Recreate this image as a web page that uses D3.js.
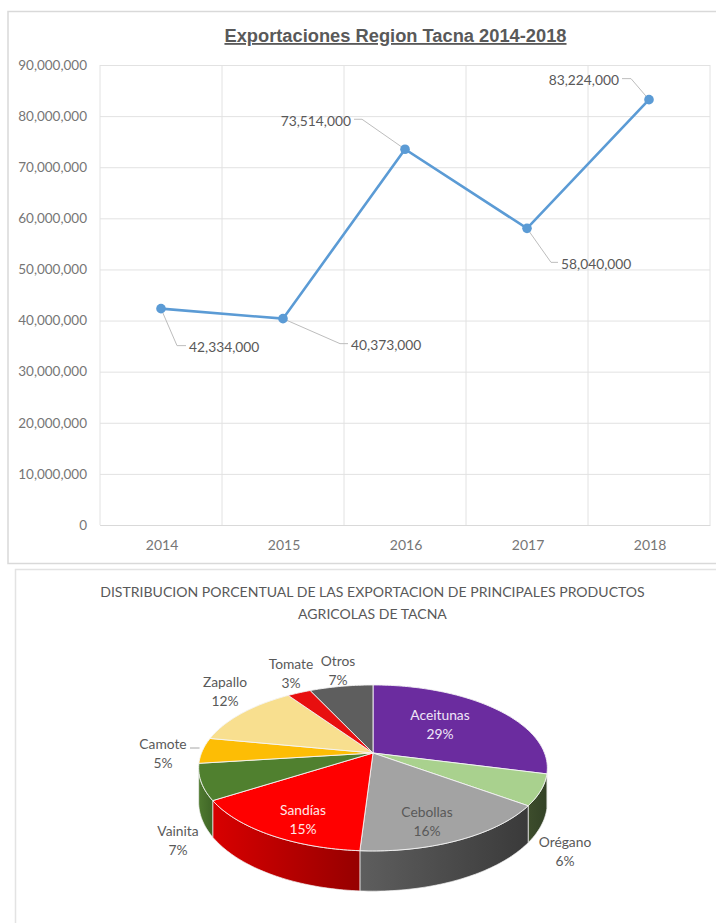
<!DOCTYPE html>
<html><head><meta charset="utf-8">
<script src="https://cdn.jsdelivr.net/npm/d3@7"></script>
<style>
html,body{margin:0;padding:0;background:#fff}
svg{display:block}
text{font-family:Lato,"Open Sans",sans-serif}
</style></head>
<body><svg id="c" width="716" height="923"></svg>
<script>
// ---- data ----
const years = ["2014","2015","2016","2017","2018"];
const exportsValues = [42334000,40373000,73514000,58040000,83224000];
const yTicks = [0,10000000,20000000,30000000,40000000,50000000,60000000,70000000,80000000,90000000];
const products = ["Aceitunas","Orégano","Cebollas","Sandías","Vainita","Camote","Zapallo","Tomate","Otros"];
const shares = [29,6,16,15,7,5,12.4,2.6,7];
const lineTitle = "Exportaciones Region Tacna 2014-2018";
const pieTitle = ["DISTRIBUCION PORCENTUAL DE LAS EXPORTACION DE PRINCIPALES PRODUCTOS","AGRICOLAS DE TACNA"];

// ---- styling / layout ----
const topColors = ["#6b2c9f","#a9d18e","#a3a3a3","#ff0000","#50802f","#fdbd05","#f8df8f","#e80f0f","#5e5e5e"];
const sideColors = [["#4a1f70","#4a1f70"],["#3d4d2c","#334226"],["#5e5e5e","#3a3a3a"],["#d80000","#960000"],["#4f7a30","#3f6526"],null,null,null,null];
const labelFill = ["#f0e6f8",null,"#595959","#ffe8e8"];
// leader offsets from each point: elbow dx,dy then end dx
const leaders = [[16,37,9],[57,25,8],[-43,-30,-8],[24,34,7],[-18,-21,-9]];
const pieLabelPos = [[440,715],[565,842],[427,812],[303,810],[178,831],[163,744],[225,682],[291,664],[338,661]];

const svg = d3.select("#c");
const grey = "#595959";

// frames
svg.append("path").attr("fill","none").attr("stroke","#d9d9d9").attr("stroke-width",1.5)
  .attr("d","M716,11.5H8V563.5H716");
svg.append("path").attr("fill","none").attr("stroke","#e3e3e3").attr("stroke-width",1.5)
  .attr("d","M716,569.5H15.5V923");

// ---- line chart ----
const m = {l:100,r:710,t:65,b:525};
const x = d3.scaleBand().domain(years).range([m.l,m.r]);
const y = d3.scaleLinear().domain([0,90000000]).range([m.b,m.t]);

const yAxis = svg.append("g").attr("transform",`translate(${m.l},0)`)
  .call(d3.axisLeft(y).tickValues(yTicks).tickFormat(d3.format(",")).tickSize(-(m.r-m.l)).tickPadding(13));
yAxis.select(".domain").remove();
yAxis.selectAll("line").attr("stroke","#e2e2e2").attr("stroke-width",1);
yAxis.selectAll("text").attr("fill","#767676").style("font-size","13.5px");

const xAxis = svg.append("g").attr("transform",`translate(0,${m.b})`)
  .call(d3.axisBottom(x).tickSize(0).tickPadding(15));
xAxis.select(".domain").attr("stroke","#d9d9d9");
xAxis.selectAll("text").attr("fill","#767676").attr("dx",1).style("font-size","14px");

svg.append("g").selectAll("line").data(d3.range(years.length+1)).join("line")
  .attr("x1",i=>m.l+i*x.step()).attr("x2",i=>m.l+i*x.step())
  .attr("y1",m.t).attr("y2",m.b).attr("stroke","#e2e2e2");

svg.append("text").text(lineTitle).attr("x",395.5).attr("y",42).attr("text-anchor","middle")
  .attr("fill",grey).attr("text-decoration","underline")
  .style("font-family","'Liberation Sans',sans-serif").style("font-weight","bold").style("font-size","18.3px");

const cx = (_,i)=>x(years[i])+x.bandwidth()/2;
const pts = exportsValues.map((v,i)=>[cx(v,i),y(v)]);

svg.append("g").selectAll("path").data(pts).join("path")
  .attr("fill","none").attr("stroke","#bdbdbd").attr("stroke-width",1)
  .attr("d",(p,i)=>{const l=leaders[i];return `M${p[0]},${p[1]}L${p[0]+l[0]},${p[1]+l[1]}h${l[2]}`;});

svg.append("path").datum(pts).attr("fill","none").attr("stroke","#5b9bd5").attr("stroke-width",2.6)
  .attr("d",d3.line());
svg.append("g").selectAll("circle").data(pts).join("circle")
  .attr("cx",d=>d[0]).attr("cy",d=>d[1]).attr("r",4.8).attr("fill","#5b9bd5");

svg.append("g").selectAll("text").data(pts).join("text")
  .text((_,i)=>d3.format(",")(exportsValues[i]))
  .attr("x",(p,i)=>p[0]+leaders[i][0]+leaders[i][2]+(leaders[i][2]>0?3:-3))
  .attr("y",(p,i)=>p[1]+leaders[i][1]+2)
  .attr("dy","0.35em").attr("text-anchor",(_,i)=>leaders[i][2]>0?"start":"end")
  .attr("fill","#595959").style("font-size","13.8px");

// ---- pie chart with perspective ----
pieTitle.forEach((t,i)=>svg.append("text").text(t).attr("x",372.5).attr("y",597+i*22)
  .attr("text-anchor","middle").attr("fill",grey).style("font-size","14.05px"));

const P = {cx:373,cy:753,rx:171.5,ry:80.3,p:0.18,depth:33};
const persp = a => 1/(1-P.p*(-Math.cos(a)));
const proj = (a,z=0)=>{const s=persp(a);return [P.cx+P.rx*Math.sin(a)*s, P.cy+P.ry*(-Math.cos(a))*s+z*s];};
const arcs = d3.pie().sort(null).value(d=>d)(shares);
const samples = (a0,a1)=>{const n=Math.max(2,Math.ceil((a1-a0)/0.02));return d3.range(n+1).map(k=>a0+(a1-a0)*k/n);};
const lineGen = d3.line();
const defs = svg.append("defs");

// sides: only the part of the rim that faces the viewer
const visA0 = 104*Math.PI/180, visA1 = 259*Math.PI/180;
const sideG = svg.append("g");
arcs.forEach((d,i)=>{
  if(!sideColors[i]) return;
  const a0=Math.max(d.startAngle,visA0), a1=Math.min(d.endAngle,visA1);
  if(a1<=a0) return;
  const ang=samples(a0,a1);
  const top=ang.map(a=>proj(a,0)), bot=ang.map(a=>proj(a,P.depth)).reverse();
  const id="side"+i;
  const g=defs.append("linearGradient").attr("id",id).attr("gradientUnits","userSpaceOnUse")
    .attr("x1",top[ang.length-1][0]).attr("x2",top[0][0]).attr("y1",0).attr("y2",0);
  g.append("stop").attr("offset",0).attr("stop-color",sideColors[i][0]);
  g.append("stop").attr("offset",1).attr("stop-color",sideColors[i][1]);
  sideG.append("path").attr("d",lineGen(top.concat(bot))+"Z").attr("fill",`url(#${id})`)
    .attr("stroke","#f2f2f2").attr("stroke-width",0.7);
});

// top faces
svg.append("g").selectAll("path").data(arcs).join("path")
  .attr("d",d=>lineGen([[P.cx,P.cy]].concat(samples(d.startAngle,d.endAngle).map(a=>proj(a))))+"Z")
  .attr("fill",(d,i)=>topColors[i]).attr("stroke","#f4f4f4").attr("stroke-width",0.9).attr("stroke-linejoin","round");

// Camote leader
const cam = proj((arcs[5].startAngle+arcs[5].endAngle)/2);
svg.append("line").attr("x1",190).attr("x2",cam[0]-3).attr("y1",748).attr("y2",748).attr("stroke","#a6a6a6");

// labels
const lab = svg.append("g").selectAll("text").data(products).join("text")
  .attr("text-anchor","middle")
  .attr("fill",(_,i)=>labelFill[i]||grey).style("font-size","13.8px");
lab.each(function(name,i){
  const t=d3.select(this), q=pieLabelPos[i];
  t.append("tspan").attr("x",q[0]).attr("y",q[1]+5).text(name);
  t.append("tspan").attr("x",q[0]).attr("y",q[1]+24).text(Math.round(shares[i])+"%");
});
</script></body></html>
